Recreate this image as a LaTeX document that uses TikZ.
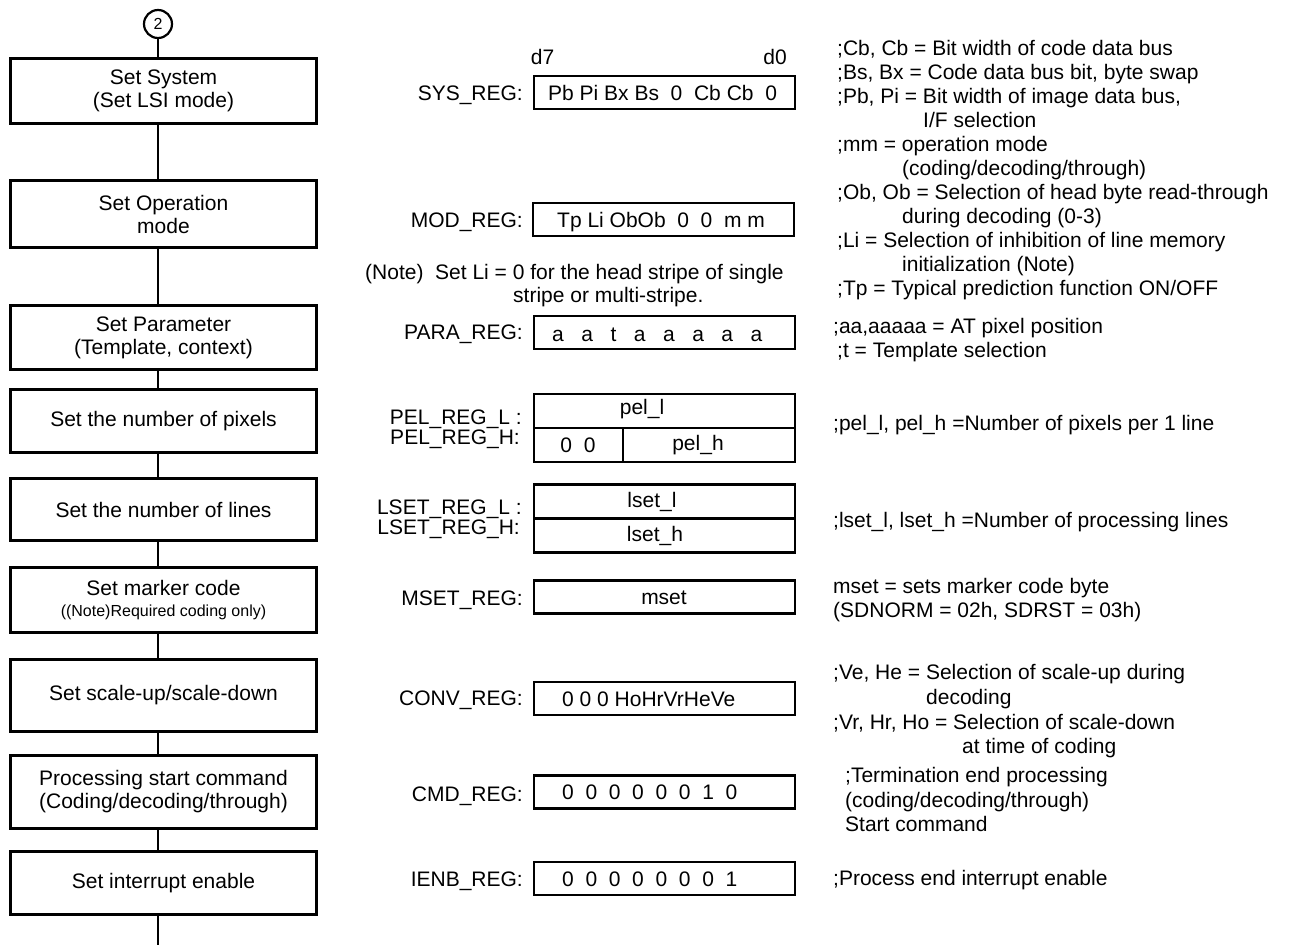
\documentclass[tikz,border=0pt]{standalone}
\usepackage{fontspec}
\setmainfont{Liberation Sans}
\usetikzlibrary{positioning}

\begin{document}
\begin{tikzpicture}[x=1pt, y=-1pt,
    every node/.style={font=\fontsize{21}{23}\selectfont},
    stepbox/.style={draw, line width=3pt, minimum width=306pt, inner sep=0pt, align=center},
    regbox/.style={draw, line width=2.5pt, minimum width=261pt, minimum height=33pt, inner sep=0pt},
    txt/.style={inner sep=0pt, text height=15pt, text depth=0pt},
    flow/.style={line width=2.5pt}]

    \useasboundingbox (0,0) rectangle (1292,945);

    % the flow on the left
    \node[draw, circle, line width=2.2pt, minimum size=28pt, inner sep=0pt, font=\fontsize{16}{18}\selectfont] (c2) at (158,24) {2};
    \node[stepbox, minimum height=65pt] (setsys) at (163.5,91) {Set System\\(Set LSI mode)};
    \node[stepbox, minimum height=67pt] (setmod) at (163.5,214) {Set Operation\\mode};
    \node[stepbox, minimum height=64pt] (setpara) at (163.5,337.5) {Set Parameter\\(Template, context)};
    \node[stepbox, minimum height=63pt] (setpel) at (163.5,421) {Set the number of pixels};
    \node[stepbox, minimum height=62pt] (setlset) at (163.5,509.5) {Set the number of lines};
    \node[stepbox, minimum height=65pt] (setmset) at (163.5,600) {Set marker code\\[-2pt]{\fontsize{16}{18}\selectfont ((Note)Required coding only)}};
    \node[stepbox, minimum height=72pt] (setconv) at (163.5,695.5) {Set scale-up/scale-down};
    \node[stepbox, minimum height=73pt] (setcmd) at (163.5,792) {Processing start command\\(Coding/decoding/through)};
    \node[stepbox, minimum height=63pt] (setienb) at (163.5,883) {Set interrupt enable};
    \coordinate (out) at (158,945);

    % the lines between the steps
    \draw[flow] (c2) -- (setsys.north -| c2);
    \draw[flow] (setsys.south -| c2) -- (setmod.north -| c2);
    \draw[flow] (setmod.south -| c2) -- (setpara.north -| c2);
    \draw[flow] (setpara.south -| c2) -- (setpel.north -| c2);
    \draw[flow] (setpel.south -| c2) -- (setlset.north -| c2);
    \draw[flow] (setlset.south -| c2) -- (setmset.north -| c2);
    \draw[flow] (setmset.south -| c2) -- (setconv.north -| c2);
    \draw[flow] (setconv.south -| c2) -- (setcmd.north -| c2);
    \draw[flow] (setcmd.south -| c2) -- (setienb.north -| c2);
    \draw[flow] (setienb.south -| c2) -- (out);

    % the registers
    \node[txt] (d7) at (542.5,57) {d7};
    \node[txt] (d0) at (775,57) {d0};
    \node[regbox] (sysreg) at (664.5,92.5) {};
    \node[regbox] (modreg) at (663.5,219.5) {};
    \node[regbox] (parareg) at (664.5,332.5) {};
    \node[regbox, minimum height=34pt] (pell) at (664.5,411) {};
    \node[regbox, minimum height=34pt, minimum width=89pt] (pelz) at (578.5,445) {};
    \node[regbox, minimum height=34pt, minimum width=172pt] (pelh) at (709,445) {};
    \node[regbox, minimum height=34pt] (lsetl) at (664.5,501.5) {};
    \node[regbox, minimum height=34pt] (lseth) at (664.5,535.5) {};
    \node[regbox] (mset) at (664.5,597) {};
    \node[regbox] (convreg) at (664.5,698.5) {};
    \node[regbox] (cmdreg) at (664.5,792) {};
    \node[regbox] (ienbreg) at (664.5,878.5) {};

    % the bits in the registers
    \node[txt, anchor=west] (sysbits) at (548,92.5) {Pb Pi Bx Bs\ \ 0\ \ Cb Cb\ \ 0};
    \node[txt, anchor=west] (modbits) at (557,219.5) {Tp Li ObOb\ \ 0\ \ 0\ \ m m};
    \node[txt, anchor=west] (parabits) at (552,334) {a~~~a~~~t~~~a~~~a~~~a~~~a~~~a};
    \node[txt] (pelltxt) at (642,407) {pel\_l};
    \node[txt] (pelztxt) at (578,445) {0\ \ 0};
    \node[txt] (pelhtxt) at (698,443) {pel\_h};
    \node[txt] (lsetltxt) at (652,500) {lset\_l};
    \node[txt] (lsethtxt) at (655,534) {lset\_h};
    \node[txt] (msettxt) at (664,596.5) {mset};
    \node[txt, anchor=west] (convbits) at (562,698.5) {0 0 0 HoHrVrHeVe};
    \node[txt, anchor=west] (cmdbits) at (562,792) {0~~0~~0~~0~~0~~0~~1~~0};
    \node[txt, anchor=west] (ienbbits) at (562,878.5) {0~~0~~0~~0~~0~~0~~0~~1};

    % the register names
    \node[txt, anchor=east] (syslbl) at (523,93) {SYS\_REG:};
    \node[txt, anchor=east] (modlbl) at (523,220) {MOD\_REG:};
    \node[txt, anchor=east] (paralbl) at (523,332) {PARA\_REG:};
    \node[txt, anchor=east] (pellbl) at (522,417) {PEL\_REG\_L :};
    \node[txt, anchor=east] (pelhlbl) at (520,437) {PEL\_REG\_H:};
    \node[txt, anchor=east] (lsetllbl) at (522,507) {LSET\_REG\_L :};
    \node[txt, anchor=east] (lsethlbl) at (520,527) {LSET\_REG\_H:};
    \node[txt, anchor=east] (msetlbl) at (523,598) {MSET\_REG:};
    \node[txt, anchor=east] (convlbl) at (523,698) {CONV\_REG:};
    \node[txt, anchor=east] (cmdlbl) at (523,794) {CMD\_REG:};
    \node[txt, anchor=east] (ienblbl) at (523,879) {IENB\_REG:};

    % the note under MOD_REG
    \node[txt, anchor=west] (note1) at (365,272) {(Note)\ \ Set Li = 0 for the head stripe of single};
    \node[txt, anchor=west] (note2) at (513,295) {stripe or multi-stripe.};

    % the comments on the right
    \node[txt, anchor=west] (r1) at (837,48) {;Cb, Cb = Bit width of code data bus};
    \node[txt, anchor=west] (r2) at (837,72) {;Bs, Bx = Code data bus bit, byte swap};
    \node[txt, anchor=west] (r3) at (837,96) {;Pb, Pi = Bit width of image data bus,};
    \node[txt, anchor=west] (r4) at (923,120) {I/F selection};
    \node[txt, anchor=west] (r5) at (837,144) {;mm = operation mode};
    \node[txt, anchor=west] (r6) at (902,168) {(coding/decoding/through)};
    \node[txt, anchor=west] (r7) at (837,192) {;Ob, Ob = Selection of head byte read-through};
    \node[txt, anchor=west] (r8) at (902,216) {during decoding (0-3)};
    \node[txt, anchor=west] (r9) at (837,240) {;Li = Selection of inhibition of line memory};
    \node[txt, anchor=west] (r10) at (902,264) {initialization (Note)};
    \node[txt, anchor=west] (r11) at (837,288) {;Tp = Typical prediction function ON/OFF};
    \node[txt, anchor=west] (r12) at (833,326) {;aa,aaaaa = AT pixel position};
    \node[txt, anchor=west] (r13) at (837,350) {;t = Template selection};
    \node[txt, anchor=west] (r14) at (833,423) {;pel\_l, pel\_h =Number of pixels per 1 line};
    \node[txt, anchor=west] (r15) at (833,520) {;lset\_l, lset\_h =Number of processing lines};
    \node[txt, anchor=west] (r16) at (833,586) {mset = sets marker code byte};
    \node[txt, anchor=west] (r17) at (833,610) {(SDNORM = 02h, SDRST = 03h)};
    \node[txt, anchor=west] (r18) at (833,672) {;Ve, He = Selection of scale-up during};
    \node[txt, anchor=west] (r19) at (926,697) {decoding};
    \node[txt, anchor=west] (r20) at (833,722) {;Vr, Hr, Ho = Selection of scale-down};
    \node[txt, anchor=west] (r21) at (962,746) {at time of coding};
    \node[txt, anchor=west] (r22) at (845,775) {;Termination end processing};
    \node[txt, anchor=west] (r23) at (845,800) {(coding/decoding/through)};
    \node[txt, anchor=west] (r24) at (845,824) {Start command};
    \node[txt, anchor=west] (r25) at (833,878) {;Process end interrupt enable};

\end{tikzpicture}
\end{document}
